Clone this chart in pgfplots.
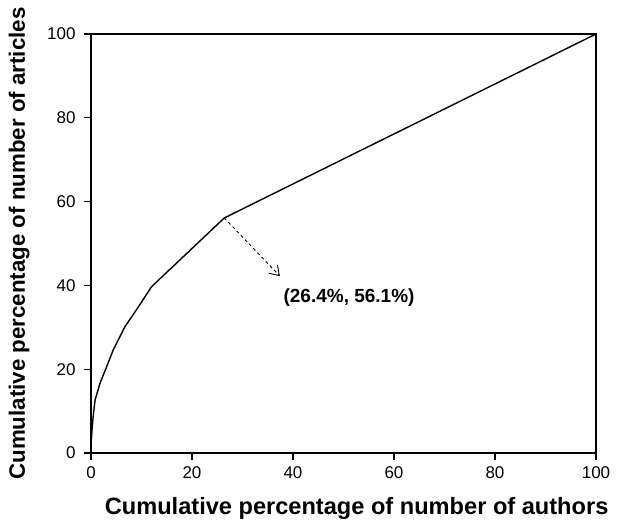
\documentclass[border=0pt]{standalone}
\usepackage{fontspec}
\setmainfont{Liberation Sans}
\usepackage{pgfplots}
\pgfplotsset{compat=1.18}
\usetikzlibrary{arrows.meta}
\begin{document}
\begin{tikzpicture}
\begin{axis}[
  scale only axis,
  width=505pt, height=419pt,
  xmin=0, xmax=100, ymin=0, ymax=100,
  xtick={0,20,40,60,80,100},
  ytick={0,20,40,60,80,100},
  xticklabels={0,20,40,60,80,100},
  yticklabels={0,20,40,60,80,100},
  tick align=outside,
  major tick length=7pt,
  xtick pos=bottom, ytick pos=left,
  axis line style={line width=1.1pt},
  every tick/.style={line width=1.1pt, black},
  /pgf/number format/assume math mode=true,
  xticklabel style={font=\fontsize{17}{19}\selectfont, yshift=-3pt},
  yticklabel style={font=\fontsize{17}{19}\selectfont, xshift=-5pt},
  xlabel={Cumulative percentage of number of authors},
  ylabel={Cumulative percentage of number of articles},
  xlabel style={font=\fontsize{23.6}{27}\selectfont\bfseries, at={(axis description cs:0.526,-0.146)}, anchor=base},
  ylabel style={font=\fontsize{22.3}{26}\selectfont\bfseries, at={(axis description cs:-0.1307,0.5)}, anchor=base},
  clip=false,
]
\addplot[black, line width=1.4pt] coordinates {
 (0,0) (0.05,2.5) (0.2,5.5) (0.45,9) (0.8,12.6) (1.8,16.7) (3.1,20.6) (4.4,24.6)
 (6.7,30.1) (9.4,34.9) (12.0,39.7) (26.4,56.1) (100,100)
};
\draw[dashed, line width=0.9pt, -{Straight Barb[length=9pt,width=12pt]}] (axis cs:26.4,56.1) -- (axis cs:37.4,42.2);
\node[font=\fontsize{19}{22}\selectfont\bfseries] at (axis cs:51.1,37.0) {(26.4\%, 56.1\%)};
\end{axis}
\path[use as bounding box] (current axis.south west) ++(-91pt,-68pt) rectangle ++(619pt,521pt);
\end{tikzpicture}
\end{document}
